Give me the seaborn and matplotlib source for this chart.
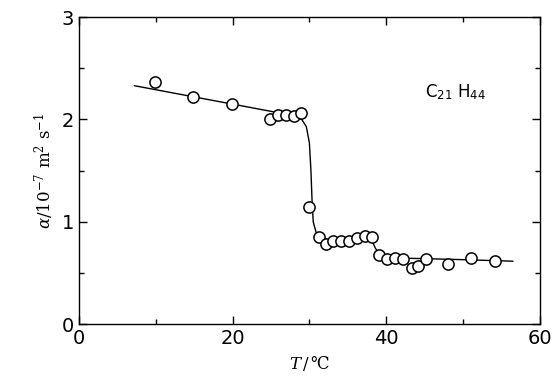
import numpy as np
import pandas as pd
import matplotlib
matplotlib.use("Agg")
import matplotlib.pyplot as plt
import seaborn as sns
from matplotlib.ticker import MultipleLocator

# --- DATA ---
T_meas = [9.9, 14.9, 19.9, 24.9, 25.95, 27.0, 28.0, 28.95,
          30.0, 31.2, 32.1, 33.1, 34.1, 35.1, 36.2, 37.2, 38.1,
          39.1, 40.1, 41.2, 42.2, 43.3, 44.2, 45.2, 48.1, 51.1, 54.1]
alpha_meas = [2.37, 2.22, 2.15, 2.00, 2.04, 2.04, 2.03, 2.06,
              1.14, 0.85, 0.78, 0.81, 0.81, 0.81, 0.84, 0.86, 0.85,
              0.68, 0.64, 0.65, 0.64, 0.55, 0.57, 0.64, 0.59, 0.65, 0.62]

# hand-drawn guide curve
T_fit = [7.2, 25.3, 27.9, 29.0, 29.6, 30.0, 30.2, 30.35, 30.5, 30.9,
         31.4, 32.0, 34.0, 35.5, 36.5, 37.5, 38.0, 38.6, 39.2, 40.0,
         42.0, 45.0, 50.0, 56.5]
alpha_fit = [2.33, 2.075, 2.03, 2.0, 1.93, 1.77, 1.5, 1.2, 1.0, 0.89,
             0.83, 0.80, 0.81, 0.82, 0.85, 0.86, 0.84, 0.74, 0.68, 0.655,
             0.645, 0.64, 0.63, 0.615]

label_text = r"C$_{\mathsf{21}}$ H$_{\mathsf{44}}$"
# ----------------

sns.set_style("ticks")
plt.rcParams["font.family"] = ["DejaVu Sans"]
plt.rcParams["mathtext.fontset"] = "dejavuserif"

fig = plt.figure(figsize=(5.52, 3.8), dpi=100)
ax = fig.add_axes([0.143, 0.147, 0.835, 0.808])

sns.lineplot(x=T_fit, y=alpha_fit, ax=ax, color="black", lw=1.0, sort=False)
sns.scatterplot(x=T_meas, y=alpha_meas, ax=ax, s=65, facecolor="white",
                edgecolor="black", linewidth=1.1, zorder=3)

ax.set_xlim(0, 60)
ax.set_ylim(0, 3)
ax.xaxis.set_major_locator(MultipleLocator(20))
ax.xaxis.set_minor_locator(MultipleLocator(10))
ax.yaxis.set_major_locator(MultipleLocator(1))
ax.yaxis.set_minor_locator(MultipleLocator(0.5))
ax.tick_params(which="both", direction="in", top=True, right=True,
               labelsize=14, width=1, colors="black")
ax.tick_params(which="major", length=6)
ax.tick_params(which="minor", length=3.5)
for sp in ax.spines.values():
    sp.set_color("black")
    sp.set_linewidth(1)

ax.set_xlabel(r"$T\,/\,$℃", fontsize=12, family=["DejaVu Serif"], color="black")
ax.set_ylabel(r"$\alpha$/10$^{-7}$ m$^{2}$ s$^{-1}$", fontsize=12,
              family=["DejaVu Serif"], color="black")
ax.text(45.0, 2.22, label_text, fontsize=12, color="black")

fig.savefig("out.png", dpi=100)
